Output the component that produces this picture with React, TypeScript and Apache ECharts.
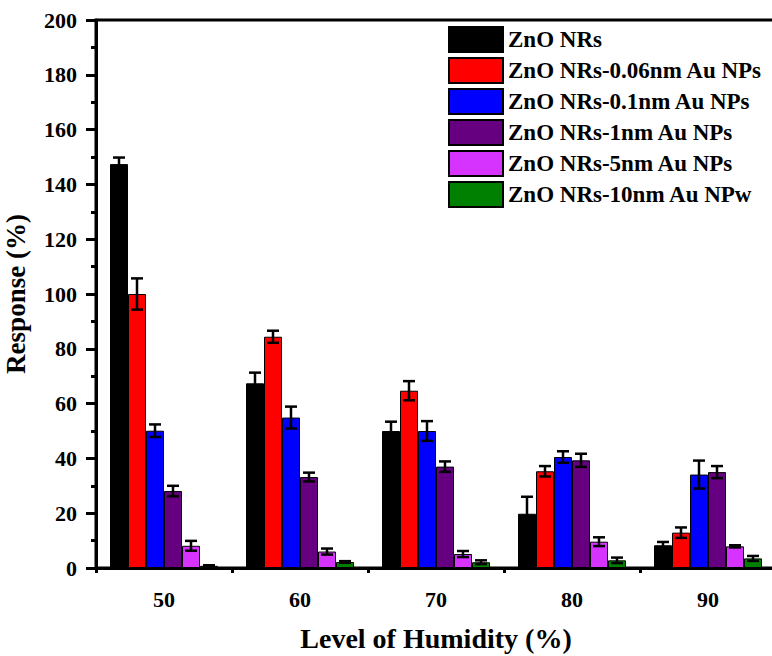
import React, { useEffect, useRef } from "react";
import * as echarts from "echarts";

const categories = ["50", "60", "70", "80", "90"];
const seriesNames = [
  "ZnO NRs",
  "ZnO NRs-0.06nm Au NPs",
  "ZnO NRs-0.1nm Au NPs",
  "ZnO NRs-1nm Au NPs",
  "ZnO NRs-5nm Au NPs",
  "ZnO NRs-10nm Au NPw",
];
const seriesColors = ["#000000", "#ff0000", "#0000ff", "#660080", "#d633ff", "#008000"];

const znoValues = [147.4, 67.4, 50.0, 19.8, 8.3];
const au006Values = [100.0, 84.4, 64.7, 35.3, 12.9];
const au01Values = [50.1, 54.9, 50.0, 40.5, 34.1];
const au1Values = [28.1, 33.2, 37.0, 39.3, 35.0];
const au5Values = [8.1, 6.0, 5.1, 9.6, 7.9];
const au10Values = [0.8, 2.2, 2.1, 2.8, 3.5];

const znoErr = [2.4, 3.9, 3.4, 6.2, 1.2];
const au006Err = [5.7, 2.2, 3.5, 1.9, 1.9];
const au01Err = [2.3, 4.0, 3.6, 2.1, 5.1];
const au1Err = [1.9, 1.6, 1.9, 2.4, 2.2];
const au5Err = [1.8, 1.1, 1.1, 1.6, 0.4];
const au10Err = [0.2, 0.3, 0.7, 1.0, 0.9];

const yTicks = { min: 0, max: 200, interval: 20 };

const allValues = [znoValues, au006Values, au01Values, au1Values, au5Values, au10Values];
const allErrs = [znoErr, au006Err, au01Err, au1Err, au5Err, au10Err];

const FONT = "'Liberation Serif', 'Times New Roman', serif";
const BAR_W = 18;

export default function App() {
  const ref = useRef<HTMLDivElement>(null);
  useEffect(() => {
    if (!ref.current) return;
    const chart = echarts.init(ref.current, undefined, { renderer: "svg" });

    const barSeries = seriesNames.map((name, i) => ({
      name,
      type: "bar",
      xAxisIndex: 0,
      yAxisIndex: 0,
      data: allValues[i],
      barWidth: BAR_W,
      barGap: "0%",
      itemStyle: { color: seriesColors[i], borderColor: "#000", borderWidth: 1 },
      z: 2,
    }));

    const errData: number[][] = [];
    allValues.forEach((vals, s) => {
      vals.forEach((v, c) => {
        errData.push([c, s, v, allErrs[s][c]]);
      });
    });

    const errSeries = {
      type: "custom",
      xAxisIndex: 0,
      yAxisIndex: 0,
      z: 10,
      silent: true,
      encode: { x: 0, y: 2 },
      data: errData,
      renderItem: (params: any, api: any) => {
        const c = api.value(0);
        const s = api.value(1);
        const v = api.value(2);
        const e = api.value(3);
        const center = api.coord([c, v]);
        const x = center[0] + (s - 2.5) * BAR_W;
        const top = api.coord([c, v + e])[1];
        const bot = api.coord([c, Math.max(v - e, 0)])[1];
        const cap = 6;
        const style = { stroke: "#000", lineWidth: 2.5 };
        return {
          type: "group",
          children: [
            { type: "line", shape: { x1: x, y1: top, x2: x, y2: bot }, style },
            { type: "line", shape: { x1: x - cap, y1: top, x2: x + cap, y2: top }, style },
            { type: "line", shape: { x1: x - cap, y1: bot, x2: x + cap, y2: bot }, style },
          ],
        };
      },
    };

    chart.setOption({
      animation: false,
      backgroundColor: "#fff",
      textStyle: { fontFamily: FONT },
      grid: {
        left: 96,
        top: 20,
        width: 680,
        height: 548,
        show: true,
        borderColor: "#000",
        borderWidth: 3,
        containLabel: false,
        outerBoundsMode: "none",
      },
      legend: {
        data: seriesNames,
        orient: "vertical",
        left: 448,
        top: 26,
        padding: 0,
        itemWidth: 54,
        itemHeight: 25,
        itemGap: 4,
        icon: "rect",
        textStyle: { fontFamily: FONT, fontWeight: "bold", fontSize: 23, color: "#000" },
      },
      xAxis: [
        {
          type: "category",
          data: categories,
          position: "bottom",
          name: "Level of Humidity (%)",
          nameLocation: "middle",
          nameGap: 56,
          nameTextStyle: { fontFamily: FONT, fontWeight: "bold", fontSize: 28, color: "#000" },
          axisLine: { lineStyle: { color: "#000", width: 3 } },
          axisTick: { alignWithLabel: true, length: 9, lineStyle: { color: "#000", width: 3 } },
          axisLabel: { margin: 20, fontFamily: FONT, fontWeight: "bold", fontSize: 22, color: "#000" },
          splitLine: { show: false },
        },
        {
          type: "category",
          data: categories,
          position: "bottom",
          axisLine: { show: false },
          axisTick: { show: true, length: 5, lineStyle: { color: "#000", width: 3 } },
          axisLabel: { show: false },
          splitLine: { show: false },
        },
      ],
      yAxis: {
        type: "value",
        min: yTicks.min,
        max: yTicks.max,
        interval: yTicks.interval,
        name: "Response (%)",
        nameLocation: "middle",
        nameGap: 67,
        nameTextStyle: { fontFamily: FONT, fontWeight: "bold", fontSize: 27, color: "#000" },
        axisLine: { show: true, lineStyle: { color: "#000", width: 3 } },
        axisTick: { show: true, length: 10, lineStyle: { color: "#000", width: 3 } },
        minorTick: { show: true, splitNumber: 2, length: 5, lineStyle: { color: "#000", width: 3 } },
        axisLabel: { margin: 19, fontFamily: FONT, fontWeight: "bold", fontSize: 22, color: "#000" },
        splitLine: { show: false },
      },
      series: [...barSeries, errSeries],
    });
    return () => chart.dispose();
  }, []);
  return (
    <div
      ref={ref}
      style={{ position: "fixed", left: 0, top: 0, width: 772, height: 656, overflow: "hidden" }}
    />
  );
}
